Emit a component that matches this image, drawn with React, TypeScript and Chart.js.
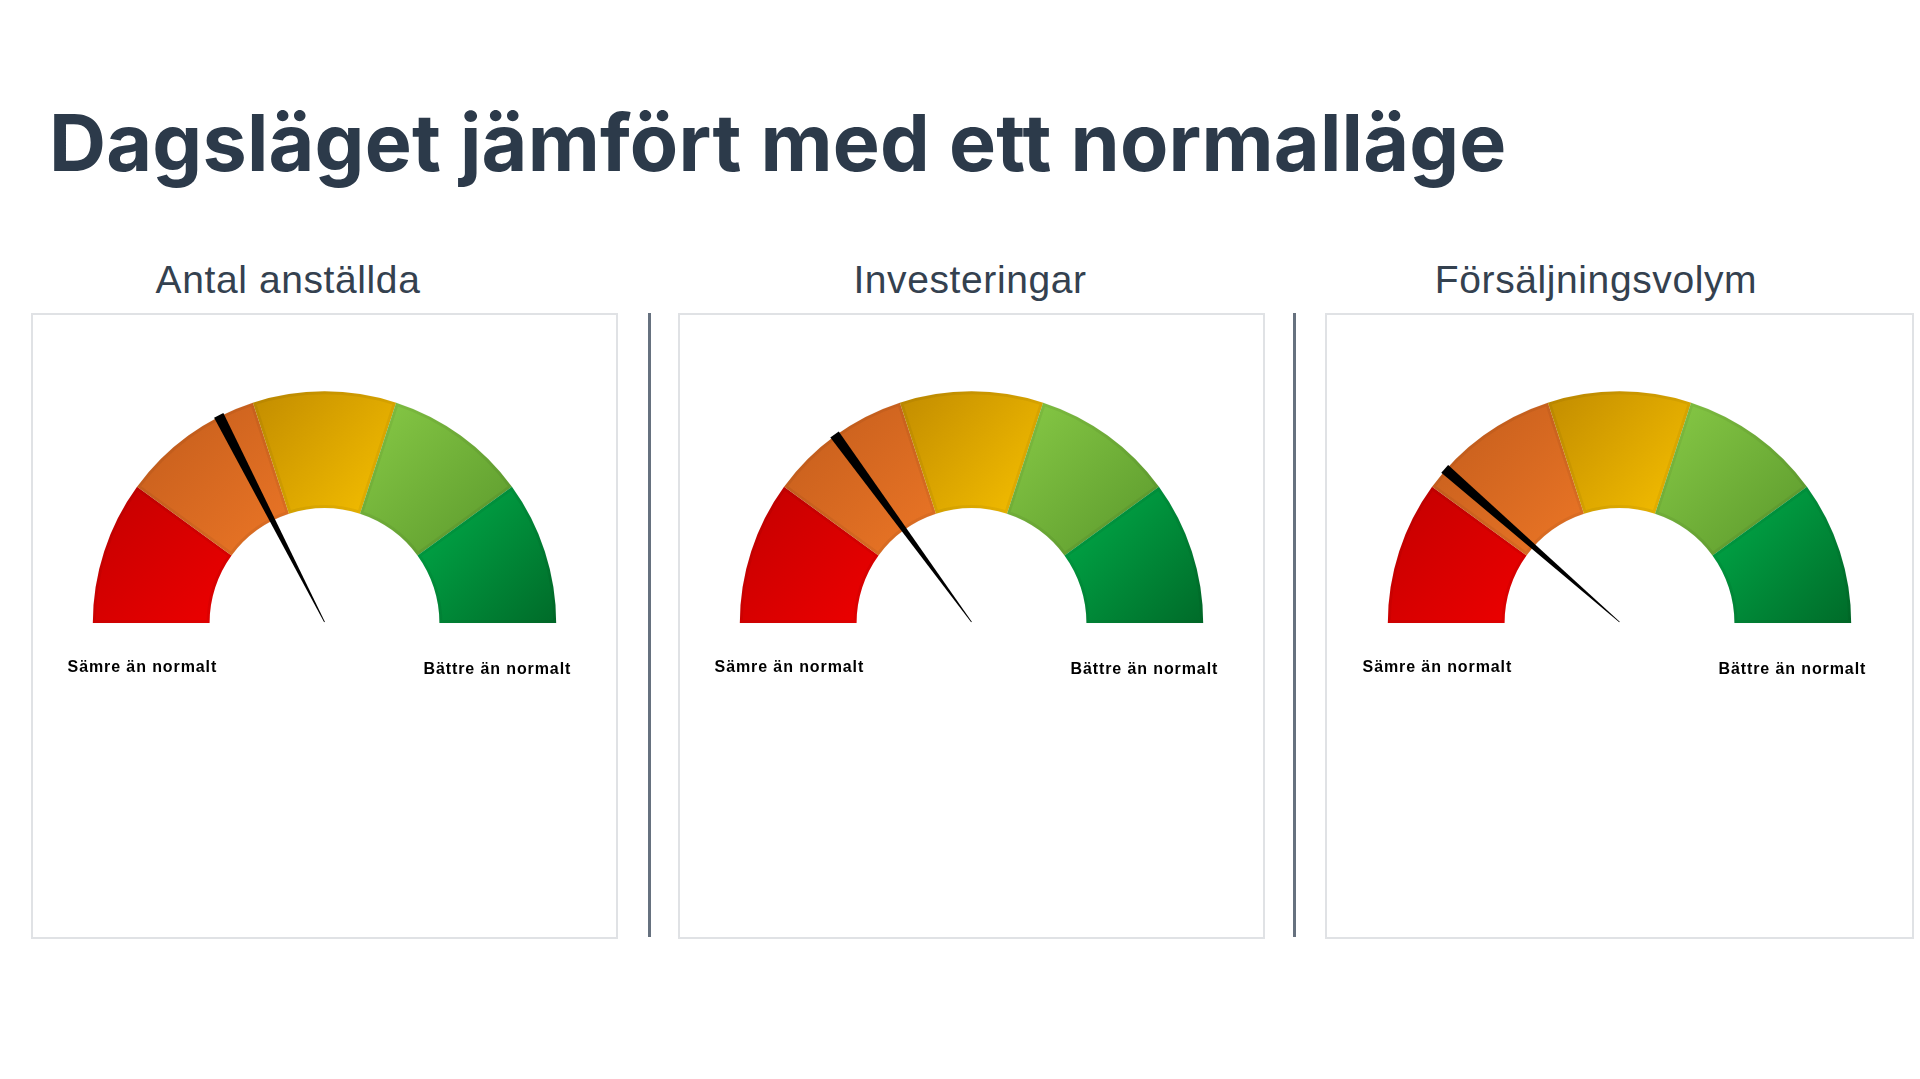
import React, { useEffect, useRef } from "react";
import { Chart, registerables } from "chart.js";

Chart.register(...registerables);

// ---- data ----
const pageTitle = "Dagsläget jämfört med ett normalläge";
const panelTitles = ["Antal anställda", "Investeringar", "Försäljningsvolym"];
const needleValues = [35, 30, 23];
const segmentNames = ["Mycket sämre", "Sämre", "Normalt", "Bättre", "Mycket bättre"];
const segmentValues = [20, 20, 20, 20, 20];
const scaleEndLabels = ["Sämre än normalt", "Bättre än normalt"];
const gaugeMin = 0;
const gaugeMax = 100;

// gradient pairs (top-left -> bottom-right) per segment
const segmentGradients: [string, string][] = [
  ["#c20000", "#ee0000"],
  ["#c25c1c", "#ec7626"],
  ["#c28c00", "#f6c000"],
  ["#88ca46", "#5a982c"],
  ["#00ae4a", "#006b29"],
];

// ---- layout ----
const panelLefts = [31, 678, 1325];
const panelWidths = [587, 587, 589];
const subtitleCenters = [288, 970, 1596];
const separatorXs = [648, 1293];

function Gauge({ index }: { index: number }) {
  const ref = useRef<HTMLCanvasElement | null>(null);
  useEffect(() => {
    const canvas = ref.current;
    if (!canvas) return;
    const w = panelWidths[index] - 4;
    const h = 622;
    const R = 232;
    const cxRel = w / 2;
    const cyRel = 308;
    const total = segmentValues.reduce((a, b) => a + b, 0);

    const needlePlugin = {
      id: "needleAndLabels",
      afterDatasetsDraw(chart: any) {
        const meta = chart.getDatasetMeta(0);
        const arc: any = meta.data[0];
        if (!arc) return;
        const { x, y, outerRadius } = arc.getProps(["x", "y", "outerRadius"], true);
        const v = needleValues[index];
        const angle = Math.PI + ((v - gaugeMin) / (gaugeMax - gaugeMin)) * Math.PI;
        const c = chart.ctx;
        const ux = Math.cos(angle);
        const uy = Math.sin(angle);
        const px = -uy;
        const py = ux;
        const tipX = x;
        const tipY = y - 1;
        const endR = outerRadius + 1;
        const ex = x + ux * endR;
        const ey = y + uy * endR;
        const hw = 5.2;
        c.save();
        c.beginPath();
        c.moveTo(tipX + px * 0.4, tipY + py * 0.4);
        c.lineTo(ex + px * hw, ey + py * hw);
        c.lineTo(ex - px * hw, ey - py * hw);
        c.lineTo(tipX - px * 0.4, tipY - py * 0.4);
        c.closePath();
        c.fillStyle = "#000000";
        c.fill();
        c.restore();

        // end labels
        c.save();
        c.fillStyle = "#000000";
        c.font = "bold 16px 'Liberation Sans', Arial, sans-serif";
        c.textAlign = "center";
        c.textBaseline = "middle";
        (c as any).letterSpacing = "0.9px";
        c.fillText(scaleEndLabels[0], x - outerRadius * 0.785, y + 44.5);
        c.fillText(scaleEndLabels[1], x + outerRadius * 0.745, y + 46.5);
        c.restore();
      },
    };

    const chart = new Chart(canvas, {
      type: "doughnut",
      data: {
        labels: segmentNames,
        datasets: [
          {
            data: segmentValues,
            borderWidth: 3,
            borderAlign: "inner",
            borderColor: "rgba(0,0,0,0.05)",
            backgroundColor: (ctx: any) => {
              const i = ctx.dataIndex;
              if (i === undefined || i === null) return segmentGradients[0][0];
              const ch = ctx.chart;
              const area = ch.chartArea;
              const ctrl: any = ch.getDatasetMeta(0).controller;
              if (!area || !ctrl || !ctrl.outerRadius) return segmentGradients[i][1];
              const cx = (area.left + area.right) / 2 + ctrl.offsetX;
              const cy = (area.top + area.bottom) / 2 + ctrl.offsetY;
              const Ro = ctrl.outerRadius;
              const Ri = ctrl.innerRadius;
              let cum = 0;
              for (let k = 0; k < i; k++) cum += segmentValues[k];
              const a0 = Math.PI + (cum / total) * Math.PI;
              const a1 = Math.PI + ((cum + segmentValues[i]) / total) * Math.PI;
              const angs = [a0, a1];
              if (a0 < 1.5 * Math.PI && a1 > 1.5 * Math.PI) angs.push(1.5 * Math.PI);
              let minX = Infinity, minY = Infinity, maxX = -Infinity, maxY = -Infinity;
              for (const a of angs) {
                for (const rr of [Ro, Ri]) {
                  const px = cx + Math.cos(a) * rr;
                  const py = cy + Math.sin(a) * rr;
                  minX = Math.min(minX, px);
                  minY = Math.min(minY, py);
                  maxX = Math.max(maxX, px);
                  maxY = Math.max(maxY, py);
                }
              }
              const g = ch.ctx.createLinearGradient(minX, minY, maxX, maxY);
              g.addColorStop(0, segmentGradients[i][0]);
              g.addColorStop(1, segmentGradients[i][1]);
              return g;
            },
          },
        ],
      },
      options: {
        animation: false,
        responsive: false,
        maintainAspectRatio: false,
        rotation: -90,
        circumference: 180,
        cutout: "49.4%",
        layout: {
          padding: {
            left: cxRel - R,
            right: w - cxRel - R,
            top: cyRel - R,
            bottom: h - cyRel,
          },
        },
        plugins: {
          legend: { display: false },
          tooltip: { enabled: false },
        },
        events: [],
      },
      plugins: [needlePlugin],
    });
    chart.update();
    return () => chart.destroy();
  }, [index]);

  return (
    <canvas
      ref={ref}
      width={panelWidths[index] - 4}
      height={622}
      style={{ display: "block", width: panelWidths[index] - 4, height: 622 }}
    />
  );
}

export default function App() {
  return (
    <div
      style={{
        position: "absolute",
        left: 0,
        top: 0,
        width: 1920,
        height: 1079,
        background: "#ffffff",
        overflow: "hidden",
      }}
    >
      <div
        style={{
          position: "absolute",
          left: 49,
          top: 103,
          fontFamily: "Inter, 'Open Sans', sans-serif",
          fontWeight: 700,
          fontSize: 79,
          lineHeight: "79px",
          color: "#2c3a4a",
          whiteSpace: "nowrap",
          letterSpacing: "0.2px",
        }}
      >
        {pageTitle}
      </div>
      {panelTitles.map((t, i) => (
        <div
          key={"t" + i}
          style={{
            position: "absolute",
            left: subtitleCenters[i] - 300,
            width: 600,
            top: 260,
            textAlign: "center",
            fontFamily: "'Liberation Sans', Arial, sans-serif",
            fontSize: 39,
            lineHeight: "39px",
            color: "#34414f",
            letterSpacing: "0.6px",
            whiteSpace: "nowrap",
          }}
        >
          {t}
        </div>
      ))}
      {panelTitles.map((t, i) => (
        <div
          key={"p" + i}
          style={{
            position: "absolute",
            left: panelLefts[i],
            top: 313,
            width: panelWidths[i] - 4,
            height: 622,
            border: "2px solid #e0e2e5",
            background: "#ffffff",
          }}
        >
          <Gauge index={i} />
        </div>
      ))}
      {separatorXs.map((x, i) => (
        <div
          key={"s" + i}
          style={{
            position: "absolute",
            left: x,
            top: 313,
            width: 3,
            height: 624,
            background: "#66717f",
          }}
        />
      ))}
    </div>
  );
}
